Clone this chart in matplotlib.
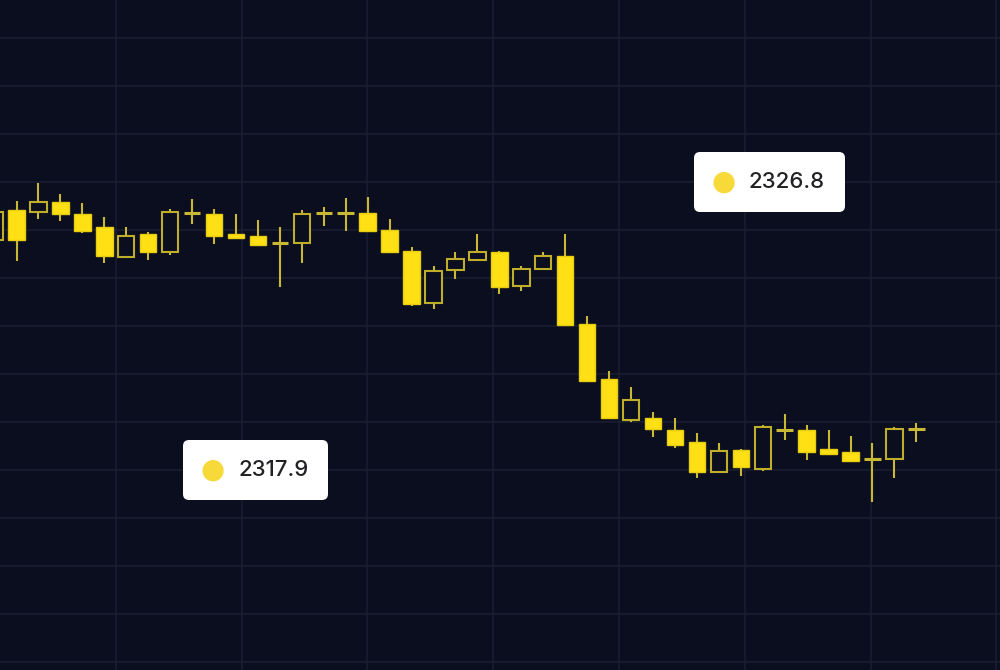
import numpy as np
import matplotlib
matplotlib.use("Agg")
import matplotlib.pyplot as plt
from matplotlib.patches import Rectangle, FancyBboxPatch
from matplotlib.transforms import IdentityTransform

# OHLC values (one candle per step, first one cut by the left edge)
opens = [2325.19, 2326.13, 2326.06, 2326.38, 2326.00, 2325.59, 2324.66, 2325.38, 2324.81, 2326.03,
         2326.00, 2325.38, 2325.31, 2325.09, 2325.09, 2326.03, 2326.03, 2326.03, 2325.50, 2324.84,
         2323.22, 2324.25, 2324.56, 2324.81, 2323.75, 2324.28, 2324.69, 2322.56, 2320.84, 2319.56,
         2319.63, 2319.25, 2318.88, 2317.94, 2318.63, 2318.03, 2319.25, 2319.25, 2318.66, 2318.56,
         2318.34, 2318.34, 2319.28]
highs = [2326.19, 2326.41, 2326.97, 2326.63, 2326.34, 2325.91, 2325.59, 2325.44, 2326.16, 2326.47,
         2326.16, 2326.00, 2325.81, 2325.59, 2326.13, 2326.22, 2326.50, 2326.53, 2325.84, 2324.97,
         2324.38, 2324.81, 2325.38, 2324.84, 2324.38, 2324.81, 2325.38, 2322.81, 2321.09, 2320.59,
         2319.81, 2319.63, 2319.16, 2318.84, 2318.66, 2319.41, 2319.75, 2319.41, 2319.25, 2319.06,
         2318.84, 2319.34, 2319.47]
lows = [2325.09, 2324.53, 2325.84, 2325.78, 2325.41, 2324.47, 2324.63, 2324.56, 2324.72, 2325.69,
        2325.06, 2325.22, 2325.00, 2323.72, 2324.47, 2325.63, 2325.47, 2325.44, 2324.78, 2323.13,
        2323.03, 2323.97, 2324.53, 2323.50, 2323.59, 2324.25, 2322.50, 2320.75, 2319.60, 2319.50,
        2319.03, 2318.69, 2317.75, 2317.91, 2317.81, 2317.97, 2318.94, 2318.31, 2318.47, 2318.25,
        2317.00, 2317.75, 2318.88]
closes = [2326.06, 2325.19, 2326.38, 2326.00, 2325.47, 2324.69, 2325.31, 2324.81, 2326.06, 2326.03,
          2325.31, 2325.25, 2325.03, 2325.09, 2326.00, 2326.03, 2326.03, 2325.47, 2324.81, 2323.19,
          2324.22, 2324.59, 2324.81, 2323.72, 2324.28, 2324.69, 2322.53, 2320.78, 2319.63, 2320.19,
          2319.28, 2318.78, 2317.94, 2318.59, 2318.09, 2319.34, 2319.25, 2318.56, 2318.50, 2318.28,
          2318.34, 2319.28, 2319.28]
first_index = -1

# tooltip labels
label_texts = ["2326.8", "2317.9"]

bg = "#0a0e1f"
grid_col = "#181d2f"
fill_col = "#ffe014"
hollow_col = "#bfae2a"
wick_col = "#c9b834"
dot_col = "#f7d93a"

fig = plt.figure(figsize=(10, 6.7), dpi=100)
fig.patch.set_facecolor(bg)
ax = fig.add_axes([0, 0, 1, 1])
ax.set_facecolor(bg)

x = np.arange(len(opens)) + first_index
w = 0.75

for xi, o, h, l, c in zip(x, opens, highs, lows, closes):
    ax.vlines(xi, l, h, color=wick_col, lw=1.5, zorder=2)
    if c < o:
        ax.add_patch(Rectangle((xi - w / 2, c), w, o - c, facecolor=fill_col,
                               edgecolor="#e8cc10", lw=1.0, zorder=3))
    elif c > o:
        ax.add_patch(Rectangle((xi - w / 2, o), w, c - o, facecolor=bg,
                               edgecolor=hollow_col, lw=1.5, zorder=3))
    else:
        ax.hlines(c, xi - w / 2, xi + w / 2, color=wick_col, lw=2.2, zorder=3)

ax.set_xticks(np.arange(4.53 - 5.73, 46, 5.73))
ax.set_yticks(np.arange(2303, 2334, 1.5))
ax.set_xlim(-0.752, 44.81)
ax.set_ylim(2311.75, 2332.6875)
ax.grid(True, color=grid_col, lw=1.2)
ax.set_axisbelow(True)
ax.tick_params(length=0, labelbottom=False, labelleft=False)
for s in ax.spines.values():
    s.set_visible(False)

# tooltip boxes (pixel coords, origin top-left like the reference)
boxes = [(694, 152, 151, 60), (183, 440, 145, 60)]
H = 670
for (bx, by, bw, bh), txt in zip(boxes, label_texts):
    patch = FancyBboxPatch((bx + 6, H - by - bh + 6), bw - 12, bh - 12,
                           boxstyle="round,pad=6,rounding_size=6",
                           transform=IdentityTransform(), facecolor="white",
                           edgecolor="none", zorder=5)
    fig.patches.append(patch)
    cy = (H - by - bh / 2) / H
    fig.text((bx + 30) / 1000, cy, "\u25cf", color=dot_col, fontsize=20,
             ha="center", va="center", family=["DejaVu Sans"], zorder=6)
    fig.text((bx + 55) / 1000, cy, txt, color="#222226", fontsize=16,
             ha="left", va="center", family=["Inter", "DejaVu Sans"],
             weight="medium", zorder=6)

fig.savefig("out.png", dpi=100, facecolor=bg)
